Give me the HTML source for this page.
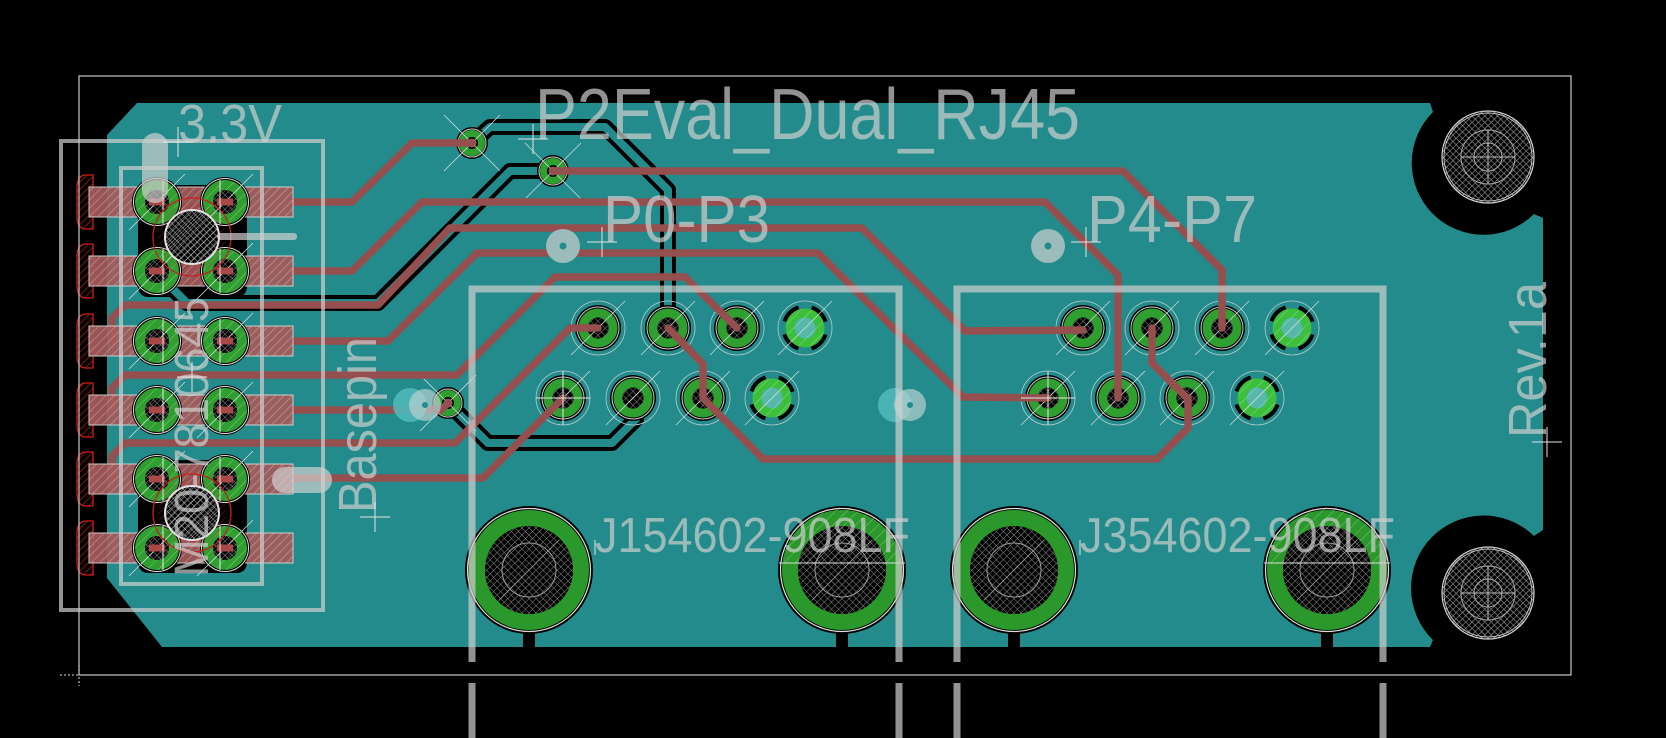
<!DOCTYPE html>
<html><head><meta charset="utf-8"><style>html,body{margin:0;padding:0;background:#000;overflow:hidden}svg{display:block}</style></head>
<body>
<svg width="1666" height="738" viewBox="0 0 1666 738" xmlns="http://www.w3.org/2000/svg">
<defs>
 <pattern id="xh" width="5" height="5" patternUnits="userSpaceOnUse" patternTransform="rotate(45)">
  <rect width="5" height="5" fill="#000"/>
  <line x1="0" y1="0" x2="5" y2="0" stroke="#8a8a8a" stroke-width="1"/>
  <line x1="0" y1="0" x2="0" y2="5" stroke="#8a8a8a" stroke-width="1"/>
 </pattern>
 <pattern id="xm" width="4.5" height="4.5" patternUnits="userSpaceOnUse" patternTransform="rotate(45)">
  <rect width="4.5" height="4.5" fill="#000"/>
  <line x1="0" y1="0" x2="4.5" y2="0" stroke="#a0a0a0" stroke-width="1.1"/>
  <line x1="0" y1="0" x2="0" y2="4.5" stroke="#a0a0a0" stroke-width="1.1"/>
 </pattern>
 <pattern id="rh" width="6" height="6" patternUnits="userSpaceOnUse" patternTransform="rotate(45)">
  <rect width="6" height="6" fill="#a45c5c"/>
  <line x1="0" y1="0" x2="0" y2="6" stroke="#c88484" stroke-width="2"/>
 </pattern>
 <pattern id="rr" width="5" height="5" patternUnits="userSpaceOnUse" patternTransform="rotate(45)">
  <line x1="0" y1="0" x2="0" y2="5" stroke="#c01818" stroke-width="1.3"/>
 </pattern>
 <pattern id="wh" width="8" height="8" patternUnits="userSpaceOnUse" patternTransform="rotate(45)">
  <line x1="0" y1="0" x2="0" y2="8" stroke="rgba(255,255,255,0.4)" stroke-width="1"/>
 </pattern>
 <pattern id="wh2" width="5" height="5" patternUnits="userSpaceOnUse" patternTransform="rotate(45)">
  <line x1="0" y1="0" x2="0" y2="5" stroke="rgba(255,255,255,0.6)" stroke-width="1.2"/>
 </pattern>
 <g id="cpad">
  <circle r="25" fill="#000"/>
  <circle r="23.5" fill="none" stroke="#ddd" stroke-width="1"/>
  <circle r="17" fill="none" stroke="#2f9f2f" stroke-width="10"/>
  <circle r="12" fill="url(#xh)"/>
  <circle r="22" fill="url(#wh)"/>
  <line x1="-28" y1="28" x2="28" y2="-28" stroke="#cfdede" stroke-width="0.8"/>
 </g>
 <g id="jpad">
  <circle r="27" fill="none" stroke="#b8cccc" stroke-width="0.8"/>
  <circle r="23" fill="#000"/>
  <circle r="21" fill="none" stroke="#ccc" stroke-width="1"/>
  <circle r="15" fill="none" stroke="#2f9f2f" stroke-width="9"/>
  <circle r="10.5" fill="url(#xh)"/>
  <line x1="-27" y1="27" x2="27" y2="-27" stroke="#c8d8d8" stroke-width="0.8"/>
 </g>
 <g id="tpad">
  <circle r="27" fill="none" stroke="#b8cccc" stroke-width="0.8"/>
  <circle r="21" fill="none" stroke="#000" stroke-width="5" stroke-dasharray="20 13" stroke-dashoffset="26.5"/>
  <circle r="15" fill="none" stroke="#3cc03c" stroke-width="9"/>
  <circle r="10.5" fill="#55b8a8"/>
  <circle r="19" fill="url(#wh)"/>
  <line x1="-27" y1="27" x2="27" y2="-27" stroke="#c8d8d8" stroke-width="0.8"/>
 </g>
 <g id="bpad">
  <path d="M-6,58 L-6,78 L6,78 L6,58Z" fill="#000"/>
  <circle r="64" fill="#000"/>
  <circle r="61.5" fill="none" stroke="#ddd" stroke-width="1.2"/>
  <circle r="52" fill="none" stroke="#2a982a" stroke-width="16"/>
  <circle r="44" fill="url(#xh)"/>
  <circle r="27" fill="none" stroke="#9a9a9a" stroke-width="1"/>
  <line x1="-30" y1="30" x2="30" y2="-30" stroke="#999" stroke-width="0.8"/>
 </g>
 <g id="via">
  <circle r="16" fill="#000"/>
  <circle r="14" fill="none" stroke="#ccc" stroke-width="1"/>
  <circle r="9.5" fill="none" stroke="#2f9f2f" stroke-width="7"/>
  <circle r="5.5" fill="#000"/>
  <circle r="4.5" fill="#964f4f"/>
  <path d="M-28,-28 L28,28 M-28,28 L28,-28" stroke="#cfdede" stroke-width="0.8"/>
 </g>
 <g id="mh">
  <circle r="46" fill="url(#xm)" stroke="#d0d0d0" stroke-width="1.2"/>
  <circle r="44" fill="none" stroke="#bdbdbd" stroke-width="1"/>
  <circle r="27" fill="none" stroke="#a8a8a8" stroke-width="1"/>
  <circle r="14" fill="none" stroke="#a8a8a8" stroke-width="1"/>
  <path d="M-27,0 H27 M0,-27 V27" stroke="#b8b8b8" stroke-width="1"/>
 </g>
 <clipPath id="topc1"><rect x="770" y="500" width="150" height="63"/></clipPath>
 <clipPath id="topc2"><rect x="1255" y="500" width="150" height="63"/></clipPath>
</defs>

<rect width="1666" height="738" fill="#000"/>

<!-- copper pour -->
<path d="M137,103 L1430,103 L1433,112 A71,71 0 0 0 1534,214 L1543,218 L1543,530 L1534,536 A71,71 0 0 0 1433,640 L1430,647 L162,647 L107,578 L107,135 Z" fill="#238b8b"/>

<!-- connector black keepout blocks -->
<rect x="138" y="185" width="109" height="112" rx="10" fill="#000"/>
<rect x="138" y="460" width="109" height="113" rx="10" fill="#000"/>

<!-- outlined (bottom) traces -->
<g fill="none" stroke-linejoin="round" stroke-linecap="round">
 <path d="M472,143 L490,127 L605,127 L668,190 L668,328" stroke="#000" stroke-width="16"/>
 <path d="M553,171 L510,171 L378,303 L187,303 L157,273" stroke="#000" stroke-width="16"/>
 <path d="M448,403 L488,443 L612,443 L636,419 L633,398" stroke="#000" stroke-width="16"/>
 <path d="M472,143 L490,127 L605,127 L668,190 L668,328" stroke="#238b8b" stroke-width="8"/>
 <path d="M553,171 L510,171 L378,303 L187,303 L157,273" stroke="#238b8b" stroke-width="8"/>
 <path d="M448,403 L488,443 L612,443 L636,419 L633,398" stroke="#238b8b" stroke-width="8"/>
</g>

<!-- mounting holes -->
<use href="#mh" x="1488" y="157"/>
<use href="#mh" x="1488" y="593"/>

<!-- big shield pads -->
<use href="#bpad" x="529" y="570"/>
<use href="#bpad" x="842" y="570"/>
<use href="#bpad" x="1014" y="570"/>
<use href="#bpad" x="1327" y="570"/>
<g clip-path="url(#topc1)"><circle cx="842" cy="570" r="63" fill="url(#wh)"/></g>
<g clip-path="url(#topc2)"><circle cx="1327" cy="570" r="63" fill="url(#wh)"/></g>
<line x1="779" y1="563" x2="905" y2="563" stroke="#ddd" stroke-width="1"/>
<line x1="1264" y1="563" x2="1390" y2="563" stroke="#ddd" stroke-width="1"/>

<!-- jack pads P0-P3 -->
<use href="#jpad" x="598" y="328"/>
<use href="#jpad" x="668" y="328"/>
<use href="#jpad" x="737" y="328"/>
<use href="#tpad" x="805" y="328"/>
<use href="#jpad" x="563" y="398"/>
<use href="#jpad" x="633" y="398"/>
<use href="#jpad" x="703" y="398"/>
<use href="#tpad" x="772" y="398"/>
<!-- jack pads P4-P7 -->
<use href="#jpad" x="1083" y="328"/>
<use href="#jpad" x="1152" y="328"/>
<use href="#jpad" x="1222" y="328"/>
<use href="#tpad" x="1292" y="328"/>
<use href="#jpad" x="1048" y="398"/>
<use href="#jpad" x="1118" y="398"/>
<use href="#jpad" x="1187" y="398"/>
<use href="#tpad" x="1257" y="398"/>

<!-- vias -->
<use href="#via" x="472" y="143"/>
<use href="#via" x="553" y="171"/>
<use href="#via" x="448" y="403"/>

<!-- connector left half-oval pads -->
<g fill="url(#rr)" stroke="#d01c1c" stroke-width="1.3">
 <path d="M93,175 L86,175 Q77,175 77,188 L77,216 Q77,229 86,229 L93,229 Z"/>
 <path d="M93,244 L86,244 Q77,244 77,257 L77,285 Q77,298 86,298 L93,298 Z"/>
 <path d="M93,314 L86,314 Q77,314 77,327 L77,355 Q77,368 86,368 L93,368 Z"/>
 <path d="M93,383 L86,383 Q77,383 77,396 L77,424 Q77,437 86,437 L93,437 Z"/>
 <path d="M93,452 L86,452 Q77,452 77,465 L77,493 Q77,506 86,506 L93,506 Z"/>
 <path d="M93,521 L86,521 Q77,521 77,534 L77,562 Q77,575 86,575 L93,575 Z"/>
</g>

<!-- red traces -->
<g fill="none" stroke="#964f4f" stroke-width="7.5" stroke-linejoin="round" stroke-linecap="round">
 <path d="M293,202 L352,202 L412,143 L472,143"/>
 <path d="M293,271 L352,271 L422,202 L1045,202 L1118,275 L1118,398"/>
 <path d="M293,341 L388,341 L477,253 L818,253 L963,397 L1048,398"/>
 <path d="M293,410 L441,410 L448,403"/>
 <path d="M293,478 L483,478 L563,398"/>
 <path d="M112,341 L112,318 L125,305 L378,305 L450,228 L862,228 L965,331 L1083,330"/>
 <path d="M112,410 L112,388 L125,375 L457,375 L555,277 L685,277 L737,328"/>
 <path d="M112,479 L112,456 L125,443 L455,443 L570,328 L598,328"/>
 <path d="M553,171 L1123,171 L1222,270 L1222,328"/>
 <path d="M668,328 L703,364 L703,398 L763,459 L1157,459 L1188,428 L1188,398"/>
 <path d="M1152,328 L1152,363 L1187,398"/>
</g>

<!-- connector hatched smd rects -->
<g fill="url(#rh)" stroke="#d8d8d8" stroke-width="1" opacity="0.92">
 <rect x="89" y="187" width="204" height="30"/>
 <rect x="89" y="256" width="204" height="30"/>
 <rect x="89" y="326" width="204" height="30"/>
 <rect x="89" y="395" width="204" height="30"/>
 <rect x="89" y="464" width="204" height="30"/>
 <rect x="89" y="533" width="204" height="30"/>
</g>

<!-- connector pads -->
<use href="#cpad" x="157" y="202"/><use href="#cpad" x="225" y="202"/>
<use href="#cpad" x="157" y="271"/><use href="#cpad" x="225" y="271"/>
<use href="#cpad" x="157" y="341"/><use href="#cpad" x="225" y="341"/>
<use href="#cpad" x="157" y="410"/><use href="#cpad" x="225" y="410"/>
<use href="#cpad" x="157" y="479"/><use href="#cpad" x="225" y="479"/>
<use href="#cpad" x="157" y="548"/><use href="#cpad" x="225" y="548"/>
<g fill="#a84848">
 <rect x="149" y="198.5" width="16" height="7"/><rect x="217" y="198.5" width="16" height="7"/>
 <rect x="149" y="267.5" width="16" height="7"/><rect x="217" y="267.5" width="16" height="7"/>
 <rect x="149" y="337.5" width="16" height="7"/><rect x="217" y="337.5" width="16" height="7"/>
 <rect x="149" y="406.5" width="16" height="7"/><rect x="217" y="406.5" width="16" height="7"/>
 <rect x="149" y="475.5" width="16" height="7"/><rect x="217" y="475.5" width="16" height="7"/>
 <rect x="149" y="544.5" width="16" height="7"/><rect x="217" y="544.5" width="16" height="7"/>
</g>
<g stroke="#e8e8e8" stroke-width="1">
 <path d="M163,180 V224 M220,180 V224 M163,249 V293 M220,249 V293 M163,319 V363 M220,319 V363 M163,388 V432 M220,388 V432 M163,457 V501 M220,457 V501 M163,526 V570 M220,526 V570"/>
</g>

<!-- hatched key circles -->
<g>
 <circle cx="192" cy="237" r="39" fill="none" stroke="#c82020" stroke-width="1.3"/>
 <circle cx="192" cy="237" r="34" fill="url(#rr)" opacity="0.6"/>
 <circle cx="192" cy="237" r="27" fill="url(#xm)" stroke="#e0e0e0" stroke-width="2"/>
 <circle cx="192" cy="237" r="27" fill="url(#wh2)"/>
 <circle cx="192" cy="513" r="39" fill="none" stroke="#c82020" stroke-width="1.3"/>
 <circle cx="192" cy="513" r="34" fill="url(#rr)" opacity="0.6"/>
 <circle cx="192" cy="513" r="27" fill="url(#xm)" stroke="#e0e0e0" stroke-width="2"/>
 <circle cx="192" cy="513" r="27" fill="url(#wh2)"/>
</g>

<!-- npth holes and markers -->
<circle cx="563" cy="246" r="17" fill="#9cbcbc"/><circle cx="563" cy="246" r="3.5" fill="#238b8b"/>
<circle cx="1048" cy="246" r="17" fill="#9cbcbc"/><circle cx="1048" cy="246" r="3.5" fill="#238b8b"/>
<circle cx="410" cy="405" r="17" fill="#4fb8b8" opacity="0.9"/>
<circle cx="425" cy="405" r="16" fill="#b8d0d0" opacity="0.7"/>
<circle cx="425" cy="405" r="3" fill="#238b8b"/>
<circle cx="895" cy="405" r="17" fill="#4fb8b8" opacity="0.9"/>
<circle cx="910" cy="405" r="16" fill="#b8d0d0" opacity="0.7"/>
<circle cx="910" cy="405" r="3" fill="#238b8b"/>

<!-- silkscreen -->
<g fill="none" stroke="#d0d0d0" opacity="0.7">
 <rect x="61" y="141" width="262" height="469" stroke-width="4"/>
 <rect x="121" y="168" width="141" height="416" stroke-width="4"/>
 <path d="M472,738 V289 H899 V738" stroke-width="7"/>
 <path d="M957,738 V289 H1383 V738" stroke-width="7"/>
</g>
<g fill="#000">
 <rect x="464" y="662" width="16" height="21"/>
 <rect x="891" y="662" width="16" height="21"/>
 <rect x="949" y="662" width="16" height="21"/>
 <rect x="1375" y="662" width="16" height="21"/>
</g>
<g fill="#d0d0d0" opacity="0.7">
 <rect x="142" y="133" width="26" height="70" rx="13"/>
 <rect x="217" y="233" width="80" height="7" rx="3"/>
 <rect x="272" y="467" width="60" height="26" rx="13"/>
</g>

<!-- texts -->
<g font-family="'Liberation Sans', sans-serif" fill="#d0d0d0" opacity="0.7">
 <text x="535" y="139" font-size="72" textLength="545" lengthAdjust="spacingAndGlyphs">P2Eval_Dual_RJ45</text>
 <text x="603" y="242" font-size="67" textLength="167" lengthAdjust="spacingAndGlyphs">P0-P3</text>
 <text x="1087" y="242" font-size="67" textLength="170" lengthAdjust="spacingAndGlyphs">P4-P7</text>
 <text x="178" y="142" font-size="54" textLength="104" lengthAdjust="spacingAndGlyphs">3.3V</text>
 <text x="595" y="552" font-size="49" textLength="315" lengthAdjust="spacingAndGlyphs">J154602-908LF</text>
 <text x="1080" y="552" font-size="49" textLength="315" lengthAdjust="spacingAndGlyphs">J354602-908LF</text>
 <text transform="translate(376,513) rotate(-90)" font-size="54" textLength="176" lengthAdjust="spacingAndGlyphs">Basepin</text>
 <text transform="translate(1546,438) rotate(-90)" font-size="54" textLength="156" lengthAdjust="spacingAndGlyphs">Rev.1a</text>
 <text transform="translate(208,577) rotate(-90)" font-size="48" textLength="280" lengthAdjust="spacingAndGlyphs">M20-7810645</text>
</g>

<!-- crosshairs -->
<g stroke="#e6e6e6" stroke-width="1" fill="none">
 <path d="M518,139 H548 M533,124 V154"/>
 <path d="M587,242 H617 M602,227 V257"/>
 <path d="M1071,242 H1101 M1086,227 V257"/>
 <path d="M163,142 H193 M178,127 V157"/>
 <path d="M360,517 H390 M375,502 V532"/>
 <path d="M1532,442 H1562 M1547,427 V457"/>
 <path d="M177,377 H207 M192,362 V392"/>
 <path d="M536,398 H590 M563,371 V425"/>
 <path d="M1021,398 H1075 M1048,371 V425"/>
 <path d="M595,555 V540 M1080,555 V540"/>
</g>

<!-- board outline -->
<rect x="79" y="76" width="1492" height="599" fill="none" stroke="#c8c8c8" stroke-width="1.2"/>
<path d="M60,675 H78 M79,665 V686" stroke="#e0e0e0" stroke-width="1" stroke-dasharray="2 2"/>
</svg>
</body></html>
